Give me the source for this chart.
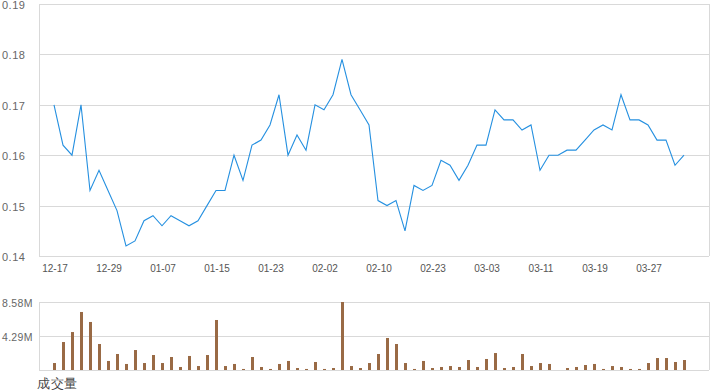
<!DOCTYPE html>
<html>
<head>
<meta charset="utf-8">
<script src="https://cdn.jsdelivr.net/npm/d3@7"></script>
<style>
  body { margin: 0; background: #fff; }
  text { font-family: "Liberation Sans", Arial, sans-serif; }
</style>
</head>
<body>
<div id="chart"></div>
<script>
// Trading days (category axis)
const dates = [
  "12-17", "12-18", "12-19", "12-20", "12-24", "12-27", "12-29",
  "12-31", "01-02", "01-03", "01-04", "01-05", "01-07",
  "01-08", "01-09", "01-10", "01-12", "01-14", "01-15",
  "01-16", "01-17", "01-19", "01-20", "01-22", "01-23",
  "01-24", "01-26", "01-28", "01-29", "01-31", "02-02",
  "02-03", "02-04", "02-06", "02-07", "02-09", "02-10",
  "02-11", "02-13", "02-17", "02-19", "02-21", "02-23",
  "02-24", "02-25", "02-27", "02-28", "03-02", "03-03",
  "03-04", "03-05", "03-07", "03-08", "03-10", "03-11",
  "03-12", "03-14", "03-15", "03-16", "03-18", "03-19",
  "03-20", "03-21", "03-23", "03-24", "03-26", "03-27",
  "03-28", "03-30", "03-31", "04-01"
];

// Closing price
const prices = [
  0.170, 0.162, 0.160, 0.170, 0.153, 0.157, 0.153, 0.149, 0.142, 0.143,
  0.147, 0.148, 0.146, 0.148, 0.147, 0.146, 0.147, 0.150, 0.153, 0.153,
  0.160, 0.155, 0.162, 0.163, 0.166, 0.172, 0.160, 0.164, 0.161, 0.170,
  0.169, 0.172, 0.179, 0.172, 0.169, 0.166, 0.151, 0.150, 0.151, 0.145,
  0.154, 0.153, 0.154, 0.159, 0.158, 0.155, 0.158, 0.162, 0.162, 0.169,
  0.167, 0.167, 0.165, 0.166, 0.157, 0.160, 0.160, 0.161, 0.161, 0.163,
  0.165, 0.166, 0.165, 0.172, 0.167, 0.167, 0.166, 0.163, 0.163, 0.158,
  0.160
];

// Volume, in millions
const volumes = [
  0.88, 3.53, 4.79, 7.32, 6.06, 3.28, 1.14, 2.02, 0.76, 2.52,
  0.88, 1.89, 0.88, 1.64, 0.38, 1.77, 0.50, 1.89, 6.31, 0.50,
  0.76, 0.13, 1.64, 0.38, 0.13, 0.76, 1.14, 0.25, 0.13, 1.01,
  0.13, 0.25, 8.58, 0.50, 0.25, 0.88, 2.02, 4.04, 3.28, 0.88,
  0.13, 1.14, 0.25, 0.38, 0.50, 0.38, 1.26, 0.38, 1.39, 2.14,
  0.25, 0.38, 2.02, 0.50, 0.88, 0.76, 0, 0.25, 0.38, 0.63,
  0.76, 0.13, 0.50, 0.38, 0.13, 0.13, 0.88, 1.51, 1.51, 1.01,
  1.26
];

const priceTicks = [0.14, 0.15, 0.16, 0.17, 0.18, 0.19];
const volumeTicks = [0, 4.29, 8.58];
const dateTicks = ["12-17", "12-29", "01-07", "01-15", "01-23", "02-02",
  "02-10", "02-23", "03-03", "03-11", "03-19", "03-27"];

const width = 720;
const height = 392;
const plot = { left: 39, right: 709 };
const main = { top: 4, bottom: 256 };
const vol = { top: 302, bottom: 370 };
const gridColor = "#d9d9d9";

const svg = d3
  .select("#chart")
  .append("svg")
  .attr("width", width)
  .attr("height", height);

// Scales
const x = d3
  .scalePoint()
  .domain(dates)
  .range([plot.left + 15, plot.right - 25]);

const y = d3
  .scaleLinear()
  .domain([0.14, 0.19])
  .range([main.bottom, main.top]);

const yVol = d3
  .scaleLinear()
  .domain([0, 8.58])
  .range([vol.bottom, vol.top]);

// Price gridlines + labels
svg
  .append("g")
  .selectAll("line")
  .data(priceTicks)
  .enter()
  .append("line")
  .attr("x1", plot.left)
  .attr("x2", plot.right)
  .attr("y1", (d) => Math.round(y(d)) + 0.5)
  .attr("y2", (d) => Math.round(y(d)) + 0.5)
  .attr("stroke", gridColor);

svg
  .append("g")
  .selectAll("text")
  .data(priceTicks)
  .enter()
  .append("text")
  .attr("x", 2)
  .attr("y", (d) => y(d) + 2)
  .attr("dominant-baseline", "middle")
  .attr("font-size", 11)
  .attr("letter-spacing", 0.5)
  .attr("fill", "#666")
  .text((d) => d3.format(".2f")(d));

// Price frame (left axis line + right border)
[plot.left, plot.right].forEach((px) => {
  svg
    .append("line")
    .attr("x1", px + 0.5)
    .attr("x2", px + 0.5)
    .attr("y1", main.top)
    .attr("y2", main.bottom)
    .attr("stroke", gridColor);
});

// X labels
svg
  .append("g")
  .selectAll("text")
  .data(dateTicks)
  .enter()
  .append("text")
  .attr("x", (d) => x(d) + 1)
  .attr("y", main.bottom + 13)
  .attr("dominant-baseline", "middle")
  .attr("text-anchor", "middle")
  .attr("font-size", 10)
  .attr("fill", "#555")
  .text((d) => d);

// Price line
const line = d3
  .line()
  .x((d, i) => x(dates[i]))
  .y((d) => y(d));

svg
  .append("path")
  .datum(prices)
  .attr("fill", "none")
  .attr("stroke", "#2590e0")
  .attr("stroke-width", 1.1)
  .attr("d", line);

// Volume gridlines + labels
svg
  .append("g")
  .selectAll("line")
  .data(volumeTicks)
  .enter()
  .append("line")
  .attr("x1", plot.left)
  .attr("x2", plot.right)
  .attr("y1", (d) => Math.round(yVol(d)) + 0.5)
  .attr("y2", (d) => Math.round(yVol(d)) + 0.5)
  .attr("stroke", gridColor);

svg
  .append("g")
  .selectAll("text")
  .data(volumeTicks.filter((d) => d > 0))
  .enter()
  .append("text")
  .attr("x", 2)
  .attr("y", (d) => yVol(d) + 2)
  .attr("dominant-baseline", "middle")
  .attr("font-size", 10.5)
  .attr("letter-spacing", 0.3)
  .attr("fill", "#666")
  .text((d) => d + "M");

[plot.left, plot.right].forEach((px) => {
  svg
    .append("line")
    .attr("x1", px + 0.5)
    .attr("x2", px + 0.5)
    .attr("y1", vol.top)
    .attr("y2", vol.bottom)
    .attr("stroke", gridColor);
});

// Volume bars
svg
  .append("g")
  .selectAll("rect")
  .data(volumes)
  .enter()
  .append("rect")
  .attr("x", (d, i) => Math.round(x(dates[i])) - 1)
  .attr("y", (d) => yVol(d))
  .attr("width", 3)
  .attr("height", (d) => yVol(0) - yVol(d))
  .attr("fill", "#996a45");

// Volume title
svg
  .append("text")
  .attr("x", 37)
  .attr("y", 385)
  .attr("dominant-baseline", "middle")
  .attr("font-family", "Noto Sans CJK SC")
  .attr("font-size", 13)
  .attr("letter-spacing", 0.5)
  .attr("fill", "#444")
  .text("成交量");
</script>
</body>
</html>
